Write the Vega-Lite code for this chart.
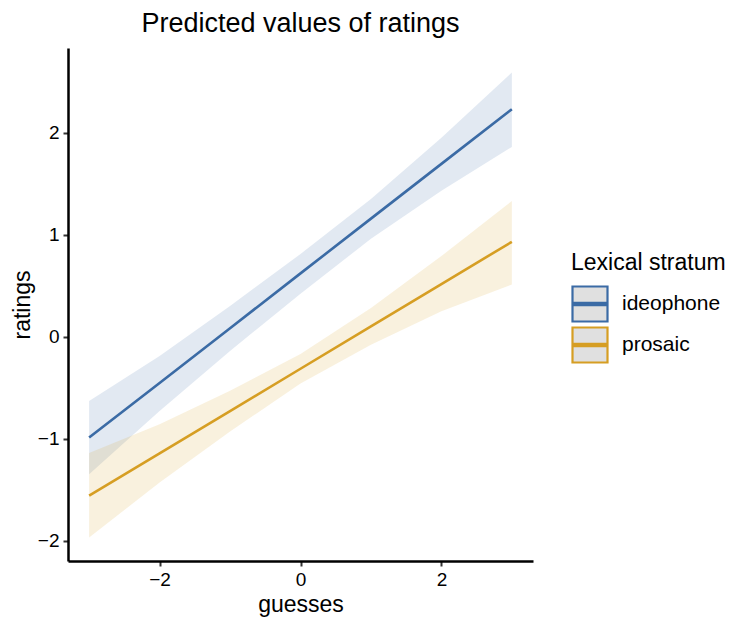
{
  "$schema": "https://vega.github.io/schema/vega-lite/v6.json",
  "width": 465,
  "height": 513,
  "autosize": "none",
  "padding": {"left": 68, "top": 48, "right": 200, "bottom": 58},
  "background": "white",
  "title": {"text": "Predicted values of ratings", "anchor": "middle", "frame": "group", "font": "Liberation Sans", "fontSize": 27, "fontWeight": "normal", "color": "black", "offset": 10},
  "config": {
    "view": {"stroke": null},
    "font": "Liberation Sans",
    "axis": {"grid": false, "domainColor": "black", "domainWidth": 2.5, "tickColor": "#333333", "tickWidth": 2, "tickSize": 5, "labelFont": "Liberation Sans", "labelFontSize": 19, "labelColor": "black", "titleFont": "Liberation Sans", "titleFontSize": 23, "titleFontWeight": "normal", "titleColor": "black", "labelPadding": 4, "format": "d"}
  },
  "data": {"values": [
    {"guesses": -3, "group": "ideophone", "pred": -0.99, "lo": -1.35, "hi": -0.63},
    {"guesses": -2, "group": "ideophone", "pred": -0.454, "lo": -0.73, "hi": -0.19},
    {"guesses": -1, "group": "ideophone", "pred": 0.083, "lo": -0.14, "hi": 0.30},
    {"guesses": 0, "group": "ideophone", "pred": 0.62, "lo": 0.42, "hi": 0.81},
    {"guesses": 1, "group": "ideophone", "pred": 1.157, "lo": 0.96, "hi": 1.35},
    {"guesses": 2, "group": "ideophone", "pred": 1.694, "lo": 1.43, "hi": 1.95},
    {"guesses": 3, "group": "ideophone", "pred": 2.23, "lo": 1.86, "hi": 2.59},
    {"guesses": -3, "group": "prosaic", "pred": -1.56, "lo": -1.97, "hi": -1.14},
    {"guesses": -2, "group": "prosaic", "pred": -1.145, "lo": -1.43, "hi": -0.86},
    {"guesses": -1, "group": "prosaic", "pred": -0.73, "lo": -0.93, "hi": -0.53},
    {"guesses": 0, "group": "prosaic", "pred": -0.315, "lo": -0.46, "hi": -0.17},
    {"guesses": 1, "group": "prosaic", "pred": 0.10, "lo": -0.08, "hi": 0.28},
    {"guesses": 2, "group": "prosaic", "pred": 0.515, "lo": 0.25, "hi": 0.79},
    {"guesses": 3, "group": "prosaic", "pred": 0.93, "lo": 0.51, "hi": 1.33}
  ]},
  "layer": [
    {
      "mark": {"type": "area", "opacity": 0.15, "clip": true},
      "encoding": {
        "x": {"field": "guesses", "type": "quantitative"},
        "y": {"field": "lo", "type": "quantitative"},
        "y2": {"field": "hi"},
        "fill": {"field": "group", "type": "nominal", "scale": {"range": ["#3b6ba5", "#d69e23"]}, "legend": null}
      }
    },
    {
      "mark": {"type": "line", "strokeWidth": 2.6, "clip": true},
      "encoding": {
        "x": {"field": "guesses", "type": "quantitative", "title": "guesses", "scale": {"domain": [-3.3, 3.3], "nice": false, "zero": false}, "axis": {"values": [-2, 0, 2], "titlePadding": 4}},
        "y": {"field": "pred", "type": "quantitative", "title": "ratings", "scale": {"domain": [-2.2, 2.83], "nice": false, "zero": false}, "axis": {"values": [-2, -1, 0, 1, 2], "titlePadding": 3}},
        "stroke": {
          "field": "group", "type": "nominal",
          "scale": {"domain": ["ideophone", "prosaic"], "range": ["#3b6ba5", "#d69e23"]},
          "legend": {
            "title": "Lexical stratum", "orient": "none", "legendX": 503, "legendY": 204,
            "padding": 0, "titleFontSize": 23, "titleFontWeight": "normal", "titleColor": "black", "titlePadding": 10,
            "labelFontSize": 21, "labelColor": "black", "labelOffset": 13,
            "symbolType": "M-1,-1H1V1H-1Z M-0.88,-0.06H0.88V0.06H-0.88Z",
            "symbolSize": 1225, "symbolStrokeWidth": 2.2, "rowPadding": -7,
            "symbolFillColor": "#e0e0e0",
            "encode": {"symbols": {"update": {"fill": {"value": "#e0e0e0"}, "fillOpacity": {"value": 1}, "opacity": {"value": 1}}}}
          }
        }
      }
    }
  ]
}
